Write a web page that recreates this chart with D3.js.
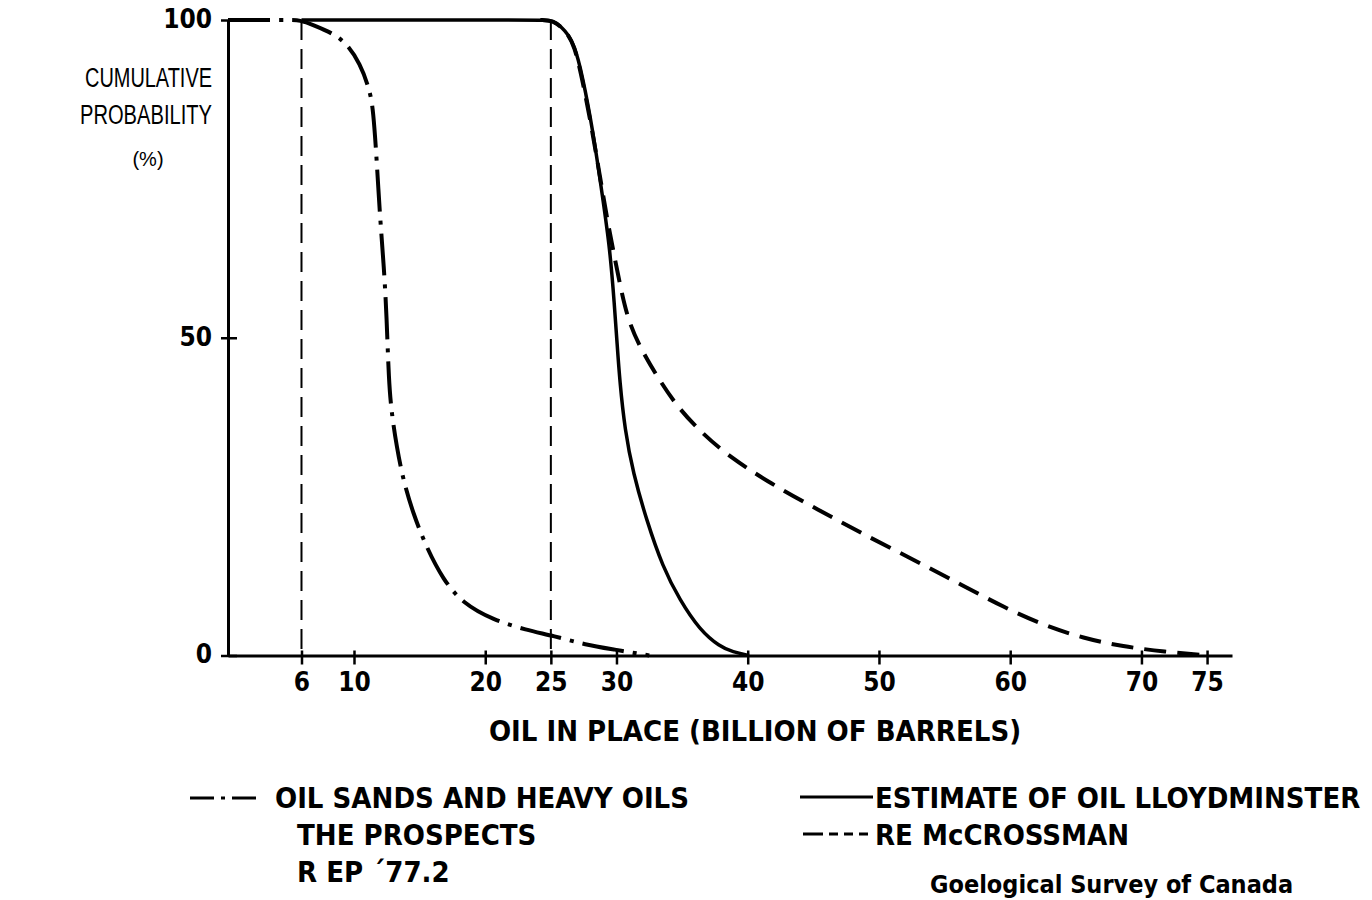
<!DOCTYPE html>
<html>
<head>
<meta charset="utf-8">
<script src="https://cdn.jsdelivr.net/npm/d3@7"></script>
<style>
  body { margin: 0; background: #fff; }
  svg text { fill: #000; }
  .cond { font-family: "DejaVu Sans Condensed", "Liberation Sans Narrow", sans-serif; font-weight: bold; }
  .reg { font-family: "Liberation Sans", Arial, sans-serif; }
</style>
</head>
<body>
<div id="chart"></div>
<script>
// tick values
const xTicks = [6, 10, 20, 25, 30, 40, 50, 60, 70, 75];
const yTicks = [0, 50, 100];
const refLines = [6, 25];

// Oil sands and heavy oils, the prospects (dash-dot)
const oilSandsX = [0.4, 5.0, 5.9, 6.9, 8.4, 9.44, 10.46, 11.2, 11.47, 11.73, 11.98, 12.28, 12.49, 12.65, 12.87, 13.25, 13.75, 14.5, 15.5, 16.8, 18.3, 20.6, 23.15, 25.2, 27.7, 29.75, 32.5];
const oilSandsY = [100, 100, 100, 99.2, 97.9, 96.3, 93.2, 89, 85.8, 78, 69, 61.2, 53.3, 43.2, 38.1, 32.9, 27.6, 22.4, 17.1, 11.9, 8.2, 5.6, 4.0, 3.1, 1.65, 0.97, 0];

// Estimate of oil Lloydminster (solid)
const lloydX = [6, 7, 24.2, 25.15, 26.1, 26.8, 27.4, 28.2, 28.96, 29.5, 29.85, 30.05, 30.25, 30.64, 31.27, 32.29, 33.53, 34.83, 36.35, 37.87, 38.86, 40.1];
const lloydY = [100, 100, 100, 100, 98.4, 96.1, 91.3, 82.7, 71.9, 64, 55, 49, 43.2, 35.5, 28.7, 21.3, 13.9, 8.7, 4.0, 1.4, 0.55, 0];

// RE McCrossman (dashed)
const mccrossX = [24.2, 25.15, 26.1, 26.8, 27.45, 28.1, 28.7, 29.3, 29.9, 30.4, 30.96, 31.9, 33.1, 34.6, 36.5, 38.6, 41.7, 45.4, 48.7, 52.7, 56.4, 59.5, 62.5, 65.6, 68.6, 71.7, 75.2];
const mccrossY = [100, 100, 98.4, 96.1, 90.1, 83.2, 75.9, 68.5, 62.2, 57.0, 52.3, 48.1, 43.9, 39.2, 35.0, 31.3, 27.1, 22.9, 19.2, 15.0, 11.0, 7.6, 4.8, 2.7, 1.4, 0.6, 0];

const width = 1372, height = 900;
const margin = {top: 20, left: 228, right: 140, bottom: 244.5};

const svg = d3.select("#chart").append("svg")
    .attr("width", width)
    .attr("height", height);

const x = d3.scaleLinear().domain([0.4, 76.9]).range([margin.left, width - margin.right]);
const y = d3.scaleLinear().domain([0, 100]).range([height - margin.bottom, margin.top]);

// X axis
const xAxis = svg.append("g")
    .attr("class", "cond")
    .attr("transform", `translate(0,${y(0)})`)
    .call(d3.axisBottom(x).tickValues(xTicks).tickSize(9).tickSizeOuter(0).tickPadding(8).tickFormat(d3.format("d")));
xAxis.select(".domain").attr("stroke-width", 3);
xAxis.selectAll(".tick line").attr("y1", -5).attr("stroke-width", 2.5);
xAxis.selectAll(".tick text").attr("font-size", 26).attr("font-family", null);

// Y axis
const yAxis = svg.append("g")
    .attr("class", "cond")
    .attr("transform", `translate(${x(0.4)},0)`)
    .call(d3.axisLeft(y).tickValues(yTicks).tickSize(7).tickSizeOuter(0).tickPadding(9));
yAxis.select(".domain").attr("stroke-width", 3);
yAxis.selectAll(".tick line").attr("x1", -7).attr("x2", 9).attr("stroke-width", 2.5);
yAxis.selectAll(".tick text").attr("font-size", 26).attr("font-family", null).attr("dy", "0.28em");

// reference lines
svg.selectAll(".ref")
    .data(refLines)
    .enter()
    .append("line")
    .attr("x1", d => x(d)).attr("x2", d => x(d))
    .attr("y1", y(100)).attr("y2", y(0))
    .attr("stroke", "#000")
    .attr("stroke-width", 2)
    .attr("stroke-dasharray", "20,9");

const line = d3.line().x(d => x(d[0])).y(d => y(d[1])).curve(d3.curveBasis);

const series = [
    {xs: oilSandsX, ys: oilSandsY, dash: "42,9,4,9", w: 4},
    {xs: lloydX, ys: lloydY, dash: null, w: 3.5},
    {xs: mccrossX, ys: mccrossY, dash: "22,11", w: 4}
];

series.forEach(s => {
    svg.append("path")
        .datum(s.xs.map((v, i) => [v, s.ys[i]]))
        .attr("d", line)
        .attr("fill", "none")
        .attr("stroke", "#000")
        .attr("stroke-width", s.w)
        .attr("stroke-dasharray", s.dash);
});

// Y axis title
const yTitle = svg.append("g").attr("class", "reg").attr("text-anchor", "middle");
yTitle.append("text").attr("x", 148.5).attr("y", 87).attr("font-size", 27)
    .attr("textLength", 127).attr("lengthAdjust", "spacingAndGlyphs").text("CUMULATIVE");
yTitle.append("text").attr("x", 146).attr("y", 124).attr("font-size", 27)
    .attr("textLength", 132).attr("lengthAdjust", "spacingAndGlyphs").text("PROBABILITY");
yTitle.append("text").attr("x", 148).attr("y", 166).attr("font-size", 20).text("(%)");

// X axis title
svg.append("text")
    .attr("class", "cond")
    .attr("x", 755).attr("y", 741)
    .attr("text-anchor", "middle")
    .attr("font-size", 29)
    .text("OIL IN PLACE (BILLION OF BARRELS)");

// Legend
const legend = svg.append("g").attr("class", "cond").attr("font-size", 29);
legend.append("line").attr("x1", 190).attr("x2", 262).attr("y1", 798).attr("y2", 798)
    .attr("stroke", "#000").attr("stroke-width", 3).attr("stroke-dasharray", "24,7,4,7");
legend.append("text").attr("x", 275).attr("y", 808).text("OIL SANDS AND HEAVY OILS");
legend.append("text").attr("x", 297).attr("y", 845).text("THE PROSPECTS");
legend.append("text").attr("x", 297).attr("y", 882).text("R EP \u00B477.2");

legend.append("line").attr("x1", 800).attr("x2", 873).attr("y1", 797).attr("y2", 797)
    .attr("stroke", "#000").attr("stroke-width", 3);
legend.append("text").attr("x", 875).attr("y", 808).text("ESTIMATE OF OIL LLOYDMINSTER");
legend.append("line").attr("x1", 803).attr("x2", 868).attr("y1", 834).attr("y2", 834)
    .attr("stroke", "#000").attr("stroke-width", 3).attr("stroke-dasharray", "20,6,9,6,9,6");
legend.append("text").attr("x", 875).attr("y", 845).text("RE McCROSSMAN");
legend.append("text").attr("x", 930).attr("y", 893).attr("font-size", 25).text("Goelogical Survey of Canada");
</script>
</body>
</html>
